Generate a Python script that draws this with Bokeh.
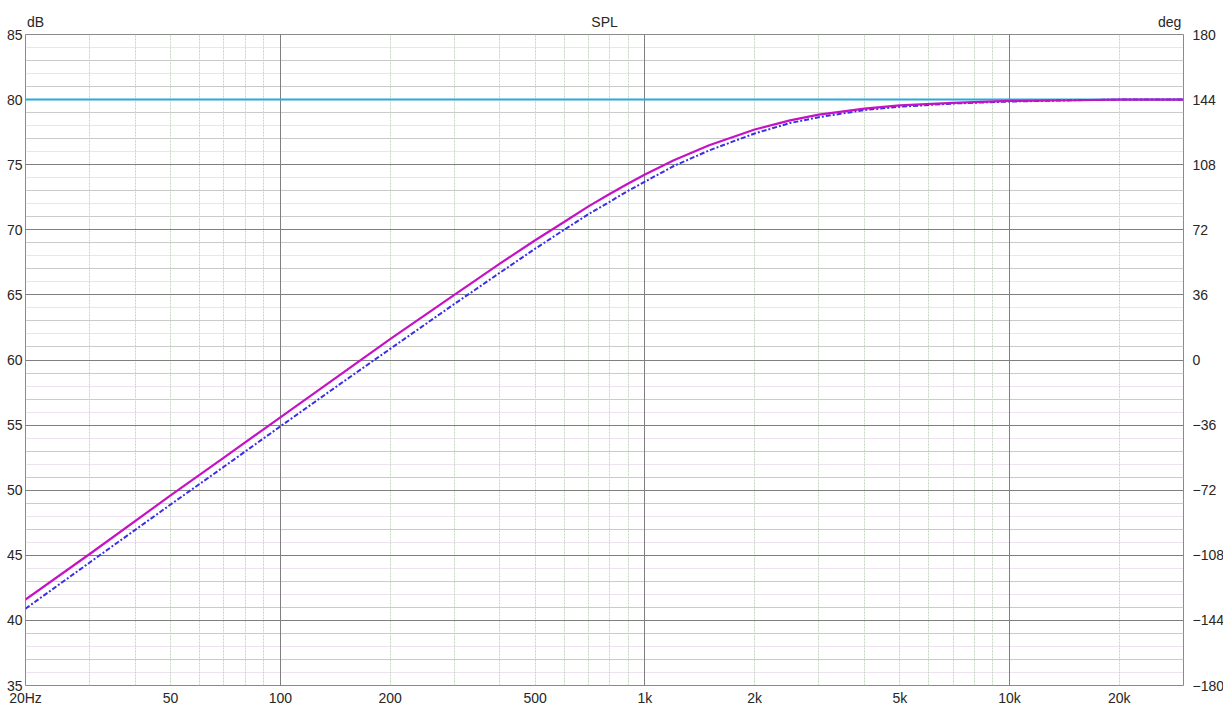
from bokeh.plotting import figure
from bokeh.models import Range1d, LinearAxis, LogAxis, FixedTicker, Grid
from bokeh.embed import file_html
from bokeh.resources import INLINE

# ---- data ----
freq = [20, 30, 50, 70, 100, 150, 200, 300, 400, 500, 600, 700, 800, 900, 1000, 1200,
        1500, 2000, 2500, 3000, 4000, 5000, 7000, 10000, 15000, 20000, 30000]
spl_solid = [41.6, 45.1, 49.6, 52.5, 55.6, 59.1, 61.6, 65.0, 67.4, 69.2, 70.6, 71.8,
             72.75, 73.55, 74.25, 75.35, 76.5, 77.7, 78.4, 78.85, 79.3, 79.55, 79.75,
             79.9, 79.95, 80.0, 80.0]
spl_dashdot = [40.9, 44.45, 48.9, 51.8, 54.9, 58.4, 60.85, 64.3, 66.7, 68.55, 70.0, 71.2,
               72.15, 73.0, 73.7, 74.9, 76.1, 77.4, 78.2, 78.65, 79.2, 79.45, 79.7,
               79.85, 79.95, 80.0, 80.0]
ref_freq = [20, 30000]
ref_spl = [80.0, 80.0]

x_ticks = [20, 50, 100, 200, 500, 1000, 2000, 5000, 10000, 20000]
x_tick_labels = ["20Hz", "50", "100", "200", "500", "1k", "2k", "5k", "10k", "20k"]
top_ticks = [21.3, 775, 27500]
top_labels = ["dB", "SPL", "deg"]
x_major_grid = [100, 1000, 10000]
x_minor_grid = [30, 40, 50, 60, 70, 80, 90, 200, 300, 400, 500, 600, 700, 800, 900,
                2000, 3000, 4000, 5000, 6000, 7000, 8000, 9000, 20000]
y_ticks = [35, 40, 45, 50, 55, 60, 65, 70, 75, 80, 85]
y_minor_solid = [37, 39, 41, 43, 47, 49, 51, 53, 57, 59, 61, 63, 67, 69, 71, 73, 77, 79, 81, 83]
y_minor_dotted = [36, 38, 42, 44, 46, 48, 52, 54, 56, 58, 62, 64, 66, 68, 72, 74, 76, 78, 82, 84]
deg_ticks = [-180, -144, -108, -72, -36, 0, 36, 72, 108, 144, 180]

FONT = "Liberation Sans"
TXT = "#262626"
FS = "14px"

p = figure(x_axis_type="log", x_range=Range1d(20, 30000), y_range=Range1d(35, 85),
           frame_width=1158, frame_height=651, output_backend="svg",
           toolbar_location=None, title=None,
           min_border_left=25, min_border_right=0, min_border_top=34, min_border_bottom=20)
p.background_fill_color = "white"
p.border_fill_color = "white"
p.outline_line_color = "#8a8a8a"
p.outline_line_width = 1

p.extra_y_ranges = {"deg": Range1d(-180, 180)}

p.xgrid.visible = False
p.ygrid.visible = False

xa = p.xaxis[0]
xa.ticker = FixedTicker(ticks=x_ticks, minor_ticks=[])
xa.major_label_overrides = {t: l for t, l in zip(x_ticks, x_tick_labels)}
ya = p.yaxis[0]
ya.ticker = FixedTicker(ticks=y_ticks, minor_ticks=[])
ra = LinearAxis(y_range_name="deg", ticker=FixedTicker(ticks=deg_ticks, minor_ticks=[]))
p.add_layout(ra, "right")
ta = LogAxis(ticker=FixedTicker(ticks=top_ticks, minor_ticks=[]))
ta.major_label_overrides = {t: l for t, l in zip(top_ticks, top_labels)}
p.add_layout(ta, "above")

for ax, so in ((xa, 4), (ya, 3), (ra, 9), (ta, 5)):
    ax.axis_line_color = None
    ax.major_tick_line_color = None
    ax.minor_tick_line_color = None
    ax.major_tick_out = 0
    ax.major_tick_in = 0
    ax.minor_tick_out = 0
    ax.minor_tick_in = 0
    ax.major_label_standoff = so
    ax.major_label_text_font = FONT
    ax.major_label_text_font_size = FS
    ax.major_label_text_color = TXT

def add_grid(dim, ticks, color, dash="solid", width=1):
    g = Grid(dimension=dim, ticker=FixedTicker(ticks=ticks, minor_ticks=[]),
             grid_line_color=color, grid_line_dash=dash, grid_line_width=width)
    p.add_layout(g)

add_grid(1, y_minor_dotted, "#dcc4e2", "1 1")
add_grid(1, y_minor_solid, "#cacaca")
add_grid(0, x_minor_grid, "#c6d6c4", "2 1")
add_grid(1, y_ticks, "#7f7f7f")
add_grid(0, x_major_grid, "#7f7f7f")

p.line(ref_freq, ref_spl, line_color="#28aadc", line_width=2)
p.line(freq, spl_dashdot, line_color="#3a2ee6", line_width=2, line_dash="5 2 2 2")
p.line(freq, spl_solid, line_color="#c412c4", line_width=2.2)

open("out.html", "w").write(file_html(p, INLINE))
